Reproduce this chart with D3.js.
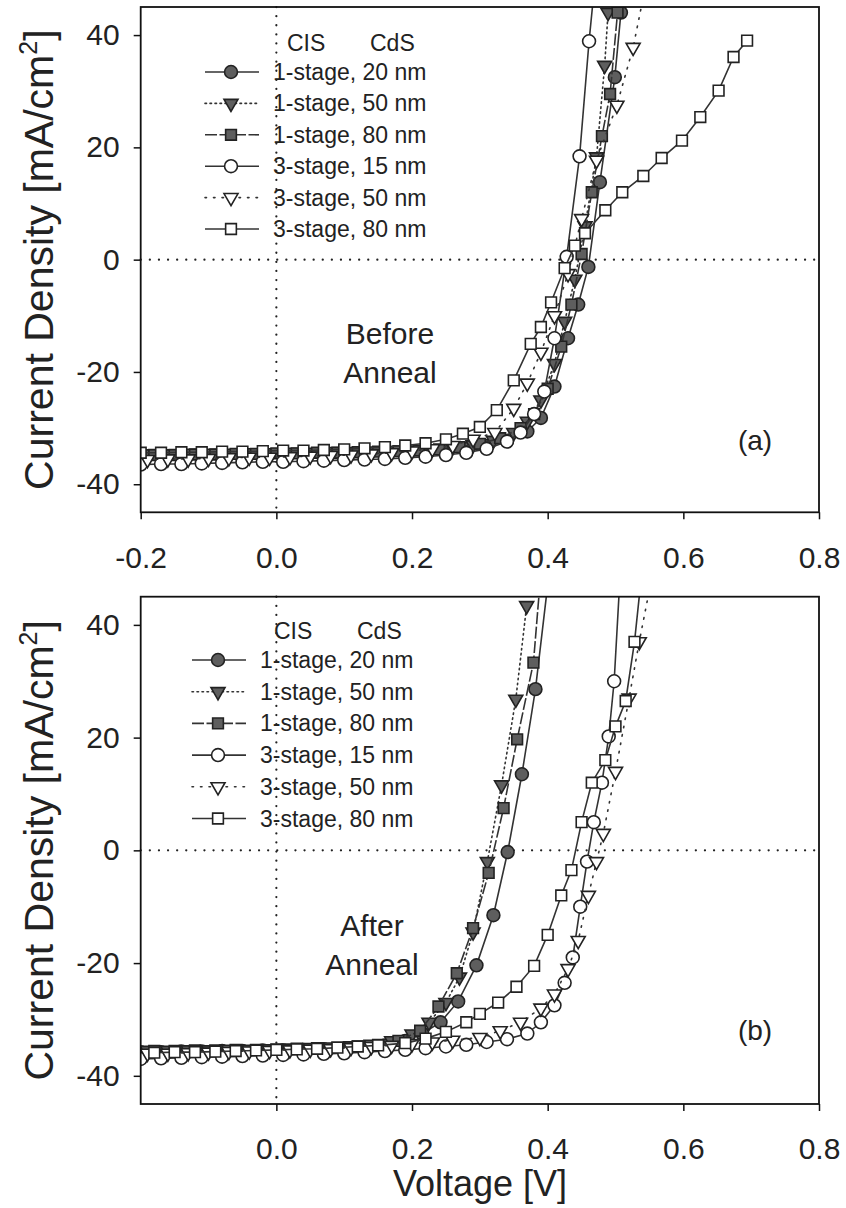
<!DOCTYPE html>
<html>
<head>
<meta charset="utf-8">
<script src="https://cdn.jsdelivr.net/npm/d3@7"></script>
<style>
  body { margin: 0; background: #fff; }
  text { font-family: "Liberation Sans", Arial, sans-serif; fill: #222; }
</style>
</head>
<body>
<svg id="chart" width="846" height="1208"></svg>
<script>
// ---- data : [voltage V, current density mA/cm2] ----
const seriesNames = ["1-stage, 20 nm", "1-stage, 50 nm", "1-stage, 80 nm",
                     "3-stage, 15 nm", "3-stage, 50 nm", "3-stage, 80 nm"];
const xTicksA = [-0.2, 0.0, 0.2, 0.4, 0.6, 0.8];
const xTicksB = [0.0, 0.2, 0.4, 0.6, 0.8];
const yTicks = [-40, -20, 0, 20, 40];

// before anneal
const a_1s20 = [[-0.2,-35.0],[-0.17,-35.0],[-0.14,-34.9],[-0.11,-34.9],[-0.08,-34.8],[-0.05,-34.8],[-0.02,-34.7],[0.01,-34.7],[0.04,-34.6],[0.07,-34.6],[0.10,-34.5],[0.13,-34.5],[0.16,-34.4],[0.19,-34.3],[0.22,-34.2],[0.25,-34.0],[0.28,-33.7],[0.31,-33.2],[0.34,-32.3],[0.37,-30.6],[0.39,-28.2],[0.41,-22.6],[0.43,-14.0],[0.445,-8.0],[0.46,-1.3],[0.477,13.8],[0.499,32.5],[0.508,44]];
const a_1s50 = [[-0.19,-34.6],[-0.16,-34.6],[-0.13,-34.5],[-0.10,-34.5],[-0.07,-34.5],[-0.04,-34.4],[-0.01,-34.4],[0.02,-34.3],[0.05,-34.3],[0.08,-34.2],[0.11,-34.2],[0.14,-34.1],[0.17,-34.0],[0.20,-33.9],[0.23,-33.7],[0.26,-33.4],[0.29,-33.0],[0.32,-32.2],[0.35,-30.8],[0.37,-28.8],[0.39,-25.0],[0.41,-18.5],[0.425,-11.0],[0.44,-3.5],[0.455,6.0],[0.472,18.3],[0.484,34.6],[0.489,44]];
const a_1s80 = [[-0.18,-34.8],[-0.15,-34.8],[-0.12,-34.7],[-0.09,-34.7],[-0.06,-34.6],[-0.03,-34.6],[0.0,-34.5],[0.03,-34.5],[0.06,-34.4],[0.09,-34.4],[0.12,-34.3],[0.15,-34.2],[0.18,-34.1],[0.21,-34.0],[0.24,-33.8],[0.27,-33.4],[0.30,-32.8],[0.33,-31.8],[0.36,-30.0],[0.38,-27.5],[0.40,-23.0],[0.42,-15.5],[0.435,-8.0],[0.45,1.0],[0.465,12.0],[0.48,22.0],[0.492,29.5],[0.503,44]];
const a_3s15 = [[-0.2,-36.5],[-0.17,-36.4],[-0.14,-36.4],[-0.11,-36.3],[-0.08,-36.2],[-0.05,-36.1],[-0.02,-36.0],[0.01,-36.0],[0.04,-35.9],[0.07,-35.8],[0.10,-35.7],[0.13,-35.6],[0.16,-35.5],[0.19,-35.3],[0.22,-35.1],[0.25,-34.8],[0.28,-34.4],[0.31,-33.7],[0.34,-32.4],[0.36,-30.8],[0.38,-27.5],[0.395,-23.5],[0.41,-14.0],[0.428,0.5],[0.447,18.4],[0.461,38.9],[0.466,45]];
const a_3s50 = [[-0.19,-35.6],[-0.16,-35.5],[-0.13,-35.5],[-0.10,-35.4],[-0.07,-35.3],[-0.04,-35.2],[-0.01,-35.2],[0.02,-35.1],[0.05,-35.0],[0.08,-34.9],[0.11,-34.8],[0.14,-34.6],[0.17,-34.4],[0.20,-34.1],[0.23,-33.7],[0.26,-33.1],[0.29,-32.0],[0.322,-30.8],[0.35,-26.5],[0.37,-22.0],[0.39,-16.5],[0.41,-10.0],[0.43,-2.5],[0.45,7.3],[0.472,17.7],[0.502,27.5],[0.526,37.8],[0.538,45]];
const a_3s80 = [[-0.2,-34.4],[-0.17,-34.4],[-0.14,-34.3],[-0.11,-34.3],[-0.08,-34.2],[-0.05,-34.2],[-0.02,-34.1],[0.01,-34.0],[0.04,-34.0],[0.07,-33.9],[0.10,-33.8],[0.13,-33.6],[0.16,-33.4],[0.19,-33.1],[0.22,-32.7],[0.25,-32.0],[0.275,-31.0],[0.30,-29.8],[0.325,-26.8],[0.35,-21.5],[0.375,-15.0],[0.39,-12.0],[0.405,-7.6],[0.425,-1.5],[0.44,2.5],[0.455,4.7],[0.485,8.8],[0.51,12.0],[0.541,14.9],[0.568,18.1],[0.598,21.2],[0.625,25.4],[0.652,30.1],[0.674,36.1],[0.694,39.0]];

// after anneal
const b_1s20 = [[-0.2,-35.8],[-0.17,-35.8],[-0.14,-35.7],[-0.11,-35.7],[-0.08,-35.6],[-0.05,-35.6],[-0.02,-35.5],[0.01,-35.5],[0.04,-35.4],[0.07,-35.3],[0.10,-35.2],[0.13,-35.0],[0.16,-34.6],[0.19,-33.8],[0.215,-32.5],[0.242,-30.5],[0.268,-26.8],[0.295,-20.4],[0.32,-11.5],[0.341,-0.3],[0.362,13.5],[0.382,28.6],[0.398,45]];
const b_1s50 = [[-0.19,-35.5],[-0.16,-35.5],[-0.13,-35.4],[-0.10,-35.4],[-0.07,-35.3],[-0.04,-35.3],[-0.01,-35.2],[0.02,-35.1],[0.05,-35.0],[0.08,-34.9],[0.11,-34.7],[0.14,-34.4],[0.17,-33.8],[0.20,-32.6],[0.225,-30.5],[0.25,-27.0],[0.27,-22.5],[0.29,-14.5],[0.311,-2.0],[0.332,11.6],[0.353,26.8],[0.369,43.4]];
const b_1s80 = [[-0.18,-35.6],[-0.15,-35.6],[-0.12,-35.5],[-0.09,-35.5],[-0.06,-35.4],[-0.03,-35.4],[0.0,-35.3],[0.03,-35.2],[0.06,-35.1],[0.09,-35.0],[0.12,-34.8],[0.15,-34.5],[0.18,-33.8],[0.212,-32.0],[0.239,-27.7],[0.266,-21.8],[0.29,-13.8],[0.313,-4.0],[0.335,7.5],[0.355,19.7],[0.379,33.3],[0.387,45]];
const b_3s15 = [[-0.2,-37.0],[-0.17,-36.9],[-0.14,-36.8],[-0.11,-36.7],[-0.08,-36.6],[-0.05,-36.5],[-0.02,-36.4],[0.01,-36.3],[0.04,-36.2],[0.07,-36.1],[0.10,-36.0],[0.13,-35.8],[0.16,-35.6],[0.19,-35.4],[0.22,-35.1],[0.25,-34.8],[0.28,-34.5],[0.31,-34.0],[0.34,-33.5],[0.37,-32.5],[0.39,-30.5],[0.41,-27.5],[0.425,-23.5],[0.437,-19.0],[0.448,-10.0],[0.458,-2.0],[0.468,5.0],[0.48,12.0],[0.49,20.2],[0.498,30.0],[0.505,45]];
const b_3s50 = [[-0.19,-36.0],[-0.16,-36.0],[-0.13,-35.9],[-0.10,-35.8],[-0.07,-35.7],[-0.04,-35.6],[-0.01,-35.5],[0.02,-35.4],[0.05,-35.3],[0.08,-35.2],[0.11,-35.0],[0.14,-34.8],[0.17,-34.6],[0.20,-34.3],[0.23,-34.0],[0.26,-33.7],[0.30,-33.2],[0.33,-32.0],[0.36,-30.5],[0.39,-28.0],[0.41,-25.5],[0.43,-21.0],[0.445,-16.0],[0.46,-8.0],[0.472,-2.0],[0.482,3.0],[0.50,14.0],[0.52,27.0],[0.535,37.0],[0.548,45]];
const b_3s80 = [[-0.18,-35.9],[-0.15,-35.8],[-0.12,-35.8],[-0.09,-35.7],[-0.06,-35.6],[-0.03,-35.5],[0.0,-35.4],[0.03,-35.3],[0.06,-35.2],[0.09,-35.0],[0.12,-34.8],[0.15,-34.6],[0.19,-34.2],[0.22,-33.4],[0.25,-32.2],[0.28,-30.5],[0.30,-29.0],[0.327,-27.0],[0.354,-24.2],[0.38,-20.5],[0.40,-15.0],[0.42,-8.0],[0.435,-3.5],[0.45,5.0],[0.465,12.0],[0.485,16.0],[0.50,22.0],[0.515,26.5],[0.528,37.0],[0.535,45]];

// ---- styles ----
const styles = [
  {shape: "circle", filled: true,  dash: null},
  {shape: "down",   filled: true,  dash: "1.5,3.5"},
  {shape: "square", filled: true,  dash: "12,2.5"},
  {shape: "circle", filled: false, dash: null},
  {shape: "down",   filled: false, dash: "1.5,7"},
  {shape: "square", filled: false, dash: null}
];

const svg = d3.select("#chart");
const fillDark = "#5e5e5e", ink = "#222";

function markerPath(shape) {
  if (shape == "circle") return d3.symbol(d3.symbolCircle, 130)();
  if (shape == "square") return d3.symbol(d3.symbolSquare, 115)();
  return d3.symbol(d3.symbolTriangle, 85)();
}

function drawMarker(g, shape, filled, cx, cy) {
  g.append("path").attr("d", markerPath(shape))
    .attr("transform", "translate(" + cx + "," + cy + ")" + (shape == "down" ? " rotate(180)" : ""))
    .attr("fill", filled ? fillDark : "#fff")
    .attr("stroke", ink).attr("stroke-width", 1.6);
}

function drawPanel(p) {
  const x = d3.scaleLinear().domain([-0.2, 0.8]).range([140.7, 819]);
  const y = d3.scaleLinear().domain([-45, 45]).range([p.bottom, p.top]);
  const g = svg.append("g");

  g.append("clipPath").attr("id", "clip" + p.id).append("rect")
    .attr("x", x(-0.2)).attr("y", p.top).attr("width", x(0.8) - x(-0.2)).attr("height", p.bottom - p.top);

  // dotted zero lines
  g.append("line").attr("x1", x(-0.2)).attr("x2", x(0.8)).attr("y1", y(0)).attr("y2", y(0))
    .attr("stroke", ink).attr("stroke-width", 2.2).attr("stroke-dasharray", "0.1,9").attr("stroke-linecap", "round");
  g.append("line").attr("x1", x(0)).attr("x2", x(0)).attr("y1", p.top).attr("y2", p.bottom)
    .attr("stroke", ink).attr("stroke-width", 2.2).attr("stroke-dasharray", "0.1,9").attr("stroke-linecap", "round");

  const line = d3.line().x(d => x(d[0])).y(d => y(d[1]));
  const plot = g.append("g").attr("clip-path", "url(#clip" + p.id + ")");
  p.series.forEach((s, i) => {
    const st = styles[i];
    plot.append("path").attr("d", line(s)).attr("fill", "none")
      .attr("stroke", "#333").attr("stroke-width", 1.6)
      .attr("stroke-dasharray", st.dash).attr("stroke-linecap", st.dash && st.dash.startsWith("1.5") ? "round" : "butt");
    s.filter(d => d[1] <= 44.5).forEach(d => drawMarker(plot, st.shape, st.filled, x(d[0]), y(d[1])));
  });

  // frame
  g.append("rect").attr("x", x(-0.2)).attr("y", p.top).attr("width", x(0.8) - x(-0.2)).attr("height", p.bottom - p.top)
    .attr("fill", "none").attr("stroke", "#111").attr("stroke-width", 1.8);

  // axes
  const yAxis = d3.axisLeft(y).tickValues(yTicks).tickSize(7).tickPadding(14).tickFormat(d3.format("d"));
  const ya = g.append("g").attr("transform", "translate(" + x(-0.2) + ",0)").call(yAxis);
  ya.select(".domain").remove();
  ya.selectAll("text").text(d => String(d)).attr("font-size", 30).attr("font-family", "Liberation Sans, Arial, sans-serif").attr("fill", ink);
  ya.selectAll("line").attr("stroke", "#111").attr("stroke-width", 1.5);

  const xAxis = d3.axisBottom(x).tickValues(p.xTicks).tickSize(7).tickPadding(27).tickFormat(d3.format(".1f"));
  const xa = g.append("g").attr("transform", "translate(0," + p.bottom + ")").call(xAxis);
  xa.select(".domain").remove();
  xa.selectAll("text").text(d => d.toFixed(1)).attr("font-size", 30).attr("font-family", "Liberation Sans, Arial, sans-serif").attr("fill", ink);
  xa.selectAll("line").attr("stroke", "#111").attr("stroke-width", 1.5);

  // y title
  const yt = g.append("text").attr("transform", "translate(53," + (p.top + p.bottom) / 2 + ") rotate(-90)")
    .attr("text-anchor", "middle").attr("font-size", 41);
  yt.append("tspan").text("Current Density [mA/cm");
  yt.append("tspan").attr("font-size", 25).attr("dy", -16).text("2");
  yt.append("tspan").attr("dy", 16).text("]");

  // annotations
  p.note.forEach((t, k) => g.append("text").attr("x", p.noteX).attr("y", p.noteY + k * 39)
    .attr("text-anchor", "middle").attr("font-size", 30).text(t));
  g.append("text").attr("x", 755).attr("y", p.labelY).attr("text-anchor", "middle").attr("font-size", 28).text(p.label);

  // legend
  g.append("text").attr("x", p.legX + 82).attr("y", p.legY - 29 + 8).attr("font-size", 23).text("CIS");
  g.append("text").attr("x", p.legX + 165).attr("y", p.legY - 29 + 8).attr("font-size", 23).text("CdS");
  seriesNames.forEach((name, i) => {
    const st = styles[i], ly = p.legY + i * p.legStep;
    g.append("line").attr("x1", p.legX).attr("x2", p.legX + 54).attr("y1", ly).attr("y2", ly)
      .attr("stroke", "#333").attr("stroke-width", 1.6).attr("stroke-dasharray", st.dash)
      .attr("stroke-linecap", st.dash && st.dash.startsWith("1.5") ? "round" : "butt");
    drawMarker(g, st.shape, st.filled, p.legX + 26, ly);
    g.append("text").attr("x", p.legX + 68).attr("y", ly + 8).attr("font-size", 23).text(name);
  });
}

drawPanel({id: "a", top: 7, bottom: 512.3, xTicks: xTicksA,
  series: [a_1s20, a_1s50, a_1s80, a_3s15, a_3s50, a_3s80],
  note: ["Before", "Anneal"], noteX: 390, noteY: 344, label: "(a)", labelY: 450,
  legX: 205, legY: 72, legStep: 31.4});
drawPanel({id: "b", top: 596.7, bottom: 1104, xTicks: xTicksB,
  series: [b_1s20, b_1s50, b_1s80, b_3s15, b_3s50, b_3s80],
  note: ["After", "Anneal"], noteX: 372, noteY: 936, label: "(b)", labelY: 1040,
  legX: 192, legY: 660, legStep: 31.7});

svg.append("text").attr("x", 480).attr("y", 1196).attr("text-anchor", "middle").attr("font-size", 36).text("Voltage [V]");
</script>
</body>
</html>
